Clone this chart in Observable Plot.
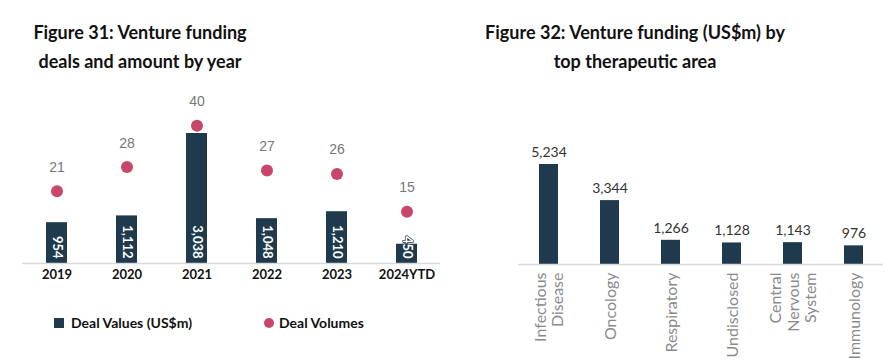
<!DOCTYPE html>
<html>
<head>
<meta charset="utf-8">
<script src="https://cdn.jsdelivr.net/npm/d3@7"></script>
<script src="https://cdn.jsdelivr.net/npm/@observablehq/plot@0.6"></script>
<style>
  html, body { margin: 0; padding: 0; background: #fff; }
  #wrap { position: relative; width: 889px; height: 364px; overflow: hidden; font-family: Lato, "Liberation Sans", sans-serif; }
  .title { position: absolute; font-weight: 700; font-size: 18px; color: #111; text-align: center; line-height: 29px; white-space: nowrap; }
  .panel { position: absolute; }
  .legend { position: absolute; font-weight: 700; font-size: 14px; color: #111; display: flex; align-items: center; }
  .sw { display: inline-block; margin-right: 7px; }
</style>
</head>
<body>
<div id="wrap">
  <div class="title" style="left:20px; top:18px; width:240px;">Figure 31: Venture funding<br>deals and amount by year</div>
  <div class="title" style="left:455px; top:18px; width:360px;">Figure 32: Venture funding (US$m) by<br>top therapeutic area</div>
  <div id="p31" class="panel" style="left:0px; top:85px;"></div>
  <div id="p32" class="panel" style="left:445px; top:85px;"></div>
  <div class="legend" style="left:54px; top:314px;"><span class="sw" style="width:10px;height:10px;background:#1e3a4c;"></span>Deal Values (US$m)</div>
  <div class="legend" style="left:264px; top:314px;"><span class="sw" style="width:10px;height:10px;border-radius:50%;background:#c9466b;margin-right:5px;"></span>Deal Volumes</div>
</div>
<script>
// ---- Figure 31 data ----
const years = ["2019", "2020", "2021", "2022", "2023", "2024YTD"];
const dealValues = [954, 1112, 3038, 1048, 1210, 450];
const dealVolumes = [21, 28, 40, 27, 26, 15];

// ---- Figure 32 data ----
const areas = ["Infectious Disease", "Oncology", "Respiratory", "Undisclosed", "Central Nervous System", "Immunology"];
const areaTickLabels = ["Infectious\nDisease", "Oncology", "Respiratory", "Undisclosed", "Central\nNervous\nSystem", "Immunology"];
const areaFunding = [5234, 3344, 1266, 1128, 1143, 976];

const barColor = "#1e3a4c";
const dotColor = "#c9466b";
const fmt = d3.format(",");

// Figure 31: dual-scale (values & volumes) on a shared baseline
const valueMax = 4160;   // value-axis top
const volumeMax = 51.7;  // volume-axis top (second scale)
const t31 = years.map((y, i) => ({year: y, value: dealValues[i], volume: dealVolumes[i], volY: dealVolumes[i] * valueMax / volumeMax}));

const p31 = Plot.plot({
  width: 440, height: 205,
  marginLeft: 22, marginRight: 0, marginTop: 0, marginBottom: 27,
  x: {domain: years, paddingInner: 0.7, paddingOuter: 0.3, label: null},
  y: {domain: [0, valueMax], axis: null},
  style: {fontFamily: "Lato, 'Liberation Sans', sans-serif", background: "transparent"},
  marks: [
    Plot.barY(t31, {x: "year", y: "value", fill: barColor}),
    Plot.ruleY([0], {stroke: "#d6d9dc", strokeWidth: 1.5}),
    Plot.text(t31, {x: "year", y: 0, text: d => fmt(d.value), rotate: 90, textAnchor: "end", dy: -5, fill: "#fff", stroke: barColor, strokeWidth: 1.5, fontWeight: 700, fontSize: 13}),
    Plot.dot(t31, {x: "year", y: "volY", r: 6, fill: dotColor, stroke: "none"}),
    Plot.text(t31, {x: "year", y: "volY", text: d => String(d.volume), dy: -24, fill: "#777", fontSize: 14, fontFamily: "'Liberation Sans', Arial, sans-serif"}),
    Plot.axisX({tickSize: 0, tickPadding: 6, fontSize: 13, fontWeight: 700, fill: "#111", label: null})
  ]
});
document.getElementById("p31").appendChild(p31);

// Figure 32
const t32 = areas.map((a, i) => ({area: a, funding: areaFunding[i], tick: areaTickLabels[i]}));
const tickMap = new Map(areas.map((a, i) => [a, areaTickLabels[i]]));

const p32 = Plot.plot({
  width: 444, height: 279,
  marginLeft: 73, marginRight: 6, marginTop: 0, marginBottom: 100,
  x: {domain: areas, paddingInner: 0.69, paddingOuter: 0.336, label: null},
  y: {domain: [0, 9369], axis: null},
  style: {fontFamily: "Lato, 'Liberation Sans', sans-serif", background: "transparent"},
  marks: [
    Plot.barY(t32, {x: "area", y: "funding", fill: barColor}),
    Plot.ruleY([0], {stroke: "#d6d9dc", strokeWidth: 1.5}),
    Plot.text(t32, {x: "area", y: "funding", text: d => fmt(d.funding), dy: -12, fill: "#333", fontSize: 14}),
    Plot.axisX({tickSize: 0, tickPadding: 8, tickRotate: -90, tickFormat: d => tickMap.get(d), fontSize: 16, fill: "#8a8a8a", lineHeight: 1.08, label: null})
  ]
});
document.getElementById("p32").appendChild(p32);
</script>
</body>
</html>
